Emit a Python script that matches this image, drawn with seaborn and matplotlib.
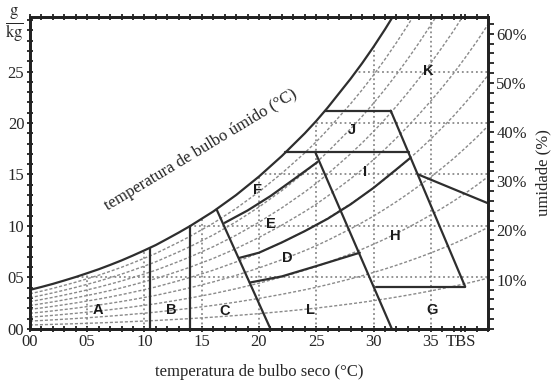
import numpy as np
import pandas as pd
import seaborn as sns
import matplotlib.pyplot as plt
from matplotlib.patches import Polygon
from matplotlib.transforms import blended_transform_factory

# -----------------------------
# Data
# -----------------------------
# saturation curve (dry bulb °C -> g/kg)
temps = list(range(0, 41))
sat_w = [3.79, 4.07, 4.37, 4.70, 5.04, 5.41, 5.79, 6.21, 6.65, 7.13,
         7.63, 8.15, 8.75, 9.36, 10.0, 10.7, 11.4, 12.2, 13.0, 13.9,
         14.8, 15.8, 16.8, 17.9, 19.0, 20.2, 21.5, 22.9, 24.3, 25.8,
         27.4, 29.1, 30.9, 32.8, 34.8, 36.9, 39.1, 41.4, 43.9, 46.5, 49.3]
rh_levels = [10, 20, 30, 40, 50, 60, 70, 80, 90]

grid_t = [5, 10, 15, 20, 25, 30, 35]
grid_w = [5, 10, 15, 20, 25]

# zone boundaries (T, w)
line_ab = [(10.5, 0), (10.5, 7.9)]
line_bc = [(14.0, 0), (14.0, 10.0)]
line_c = [(16.3, 11.6), (21.0, 0)]
line_fe = [(17.0, 10.3), (19.0, 11.5), (21.0, 12.9), (23.0, 14.5), (25.1, 16.2)]
line_ed = [(18.3, 6.9), (20.0, 7.4), (22.0, 8.4), (24.0, 9.5), (26.0, 10.7),
           (28.0, 12.1), (30.0, 13.7), (32.0, 15.5), (33.2, 16.6)]
line_d_low = [(19.2, 4.5), (22.0, 5.1), (25.0, 6.1), (28.8, 7.4)]
line_h_low = [(30.2, 4.1), (38.0, 4.1)]
line_k = [(31.5, 21.2), (38.0, 4.1)]
line_j_top = [(25.8, 21.2), (31.5, 21.2)]
line_i_top = [(22.3, 17.2), (33.1, 17.2)]
line_h_right = [(33.9, 15.0), (40.0, 12.2)]
line_slant = [(24.9, 17.2), (31.6, 0)]
zone_lines = [line_ab, line_bc, line_c, line_fe, line_ed, line_d_low,
              line_h_low, line_k, line_j_top, line_i_top, line_h_right, line_slant]

zone_names = ["A", "B", "C", "D", "E", "F", "G", "H", "I", "J", "K", "L"]
zone_t = [5.9, 12.3, 17.0, 22.5, 21.0, 19.9, 35.1, 31.9, 29.3, 28.1, 34.8, 24.5]
zone_w = [1.85, 1.85, 1.75, 6.9, 10.2, 13.5, 1.85, 9.0, 15.2, 19.3, 25.1, 1.85]

x_ticks = [0, 5, 10, 15, 20, 25, 30, 35, 37.6]
x_labels = ["00", "05", "10", "15", "20", "25", "30", "35", "TBS"]
y_ticks = [0, 5, 10, 15, 20, 25]
y_labels = ["00", "05", "10", "15", "20", "25"]
rh_ticks = [10, 20, 30, 40, 50, 60]

# -----------------------------
# Style
# -----------------------------
sns.set_style("white")
plt.rcParams['font.family'] = ['Liberation Serif', 'DejaVu Serif']
plt.rcParams['mathtext.fontset'] = 'stix'

fig = plt.figure(figsize=(5.54, 3.86), dpi=100)
ax = fig.add_axes([0.054, 0.148, 0.827, 0.808])
ax.set_xlim(0, 40)
ax.set_ylim(0, 30.3)

# region under the saturation curve, used to clip the grid
clip = Polygon(list(zip(temps, sat_w)) + [(40, 0), (0, 0)], closed=True,
               transform=ax.transData, facecolor='none', edgecolor='none')
ax.add_patch(clip)

# relative humidity curves
rh_df = pd.DataFrame([
    {"T": t, "w": w * rh / 100.0, "rh": rh}
    for rh in rh_levels for t, w in zip(temps, sat_w)
])
n0 = len(ax.lines)
sns.lineplot(data=rh_df, x="T", y="w", units="rh", estimator=None,
             color="#8a8a8a", lw=1.0, ax=ax, legend=False)
for ln in ax.lines[n0:]:
    ln.set_dashes((2.2, 1.4))
    ln.set_clip_path(clip)

# dotted grid
vl = ax.vlines(grid_t, 0, 31, colors="#8a8a8a", linestyles=(0, (1, 1.6)), lw=1.3)
hl = ax.hlines(grid_w, 0, 40, colors="#8a8a8a", linestyles=(0, (1, 1.6)), lw=1.3)
vl.set_clip_path(clip)
hl.set_clip_path(clip)

# saturation curve
sns.lineplot(x=temps, y=sat_w, color="#2e2e2e", lw=1.6, ax=ax)

# zone boundaries
for seg in zone_lines:
    xs, ys = zip(*seg)
    ax.plot(xs, ys, color="#2e2e2e", lw=1.6, solid_capstyle='round')

for name, t, w in zip(zone_names, zone_t, zone_w):
    ax.text(t, w, name, ha="center", va="center", fontsize=10.5,
            fontweight="bold", family=["Liberation Sans", "DejaVu Sans"],
            color="#1a1a1a")

ax.text(14.95, 17.4, "temperatura de bulbo úmido (°C)", rotation=31,
        rotation_mode="anchor", ha="center", va="center", fontsize=12)

# axes / ticks
ax.set_xticks(x_ticks)
ax.set_xticklabels(x_labels, fontsize=12)
ax.set_yticks(y_ticks)
ax.set_yticklabels(y_labels, fontsize=12)
ax.set_xticks(range(0, 41), minor=True)
ax.set_yticks(range(0, 31), minor=True)
ax.tick_params(which="both", direction="inout", length=4, width=1.3,
               top=True, left=True, bottom=True, color="#222222", pad=2)
ax.set_xlabel("temperatura de bulbo seco (°C)", fontsize=12, labelpad=10)
ax.set_ylabel("")
for s in ax.spines.values():
    s.set_linewidth(2)
    s.set_color("#222222")

trans = blended_transform_factory(ax.transAxes, ax.transData)
ax.text(-0.035, 29.5, r"$\frac{\mathrm{g}}{\mathrm{kg}}$", transform=trans,
        ha="center", va="center", fontsize=17)

ax2 = ax.twinx()
ax2.set_ylim(0, 63.4)
ax2.set_yticks(rh_ticks)
ax2.set_yticklabels([f"{v}%" for v in rh_ticks], fontsize=12)
ax2.set_yticks(range(0, 64, 2), minor=True)
ax2.tick_params(which="both", direction="out", length=4, width=1.3,
                color="#222222", pad=2)
ax2.set_ylabel("umidade (%)", fontsize=12, labelpad=6)
for s in ax2.spines.values():
    s.set_linewidth(2)
    s.set_color("#222222")

fig.savefig("out.png", dpi=100)
plt.close(fig)
